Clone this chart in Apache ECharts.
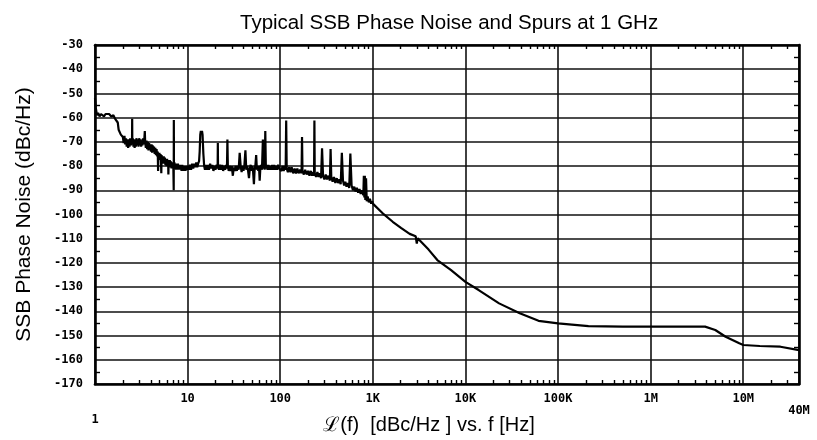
<!DOCTYPE html>
<html>
<head>
<meta charset="utf-8">
<script src="https://cdn.jsdelivr.net/npm/echarts@6/dist/echarts.min.js"></script>
<style>
html, body { margin: 0; padding: 0; background: #fff; }
#chart { width: 817px; height: 440px; }
</style>
</head>
<body>
<div id="chart"></div>
<script>
// SSB phase noise of the 1 GHz output: [offset frequency (Hz), L(f) (dBc/Hz)]

// 1 Hz - 10 Hz: close-in noise with mains-related spurs
const closeInNoise = [
  [1, -52], [1.02, -56], [1.05, -59], [1.08, -58], [1.12, -59.5], [1.16, -58.5],
  [1.2, -58], [1.25, -59.5], [1.3, -58.5], [1.36, -59], [1.42, -58.5], [1.5, -59.5],
  [1.58, -59], [1.65, -60.5], [1.72, -60], [1.76, -62], [1.8, -65], [1.85, -64.5],
  [1.9, -67], [1.96, -66.5], [2.0, -68], [2.04, -70.5], [2.08, -67.5], [2.12, -71],
  [2.16, -68.5], [2.2, -72], [2.24, -69], [2.28, -72.5], [2.32, -69], [2.36, -72],
  [2.4, -68.5], [2.44, -71.5], [2.48, -69], [2.51, -71], [2.52, -60.5], [2.53, -71],
  [2.56, -68.5], [2.6, -72], [2.64, -69], [2.68, -72.5], [2.72, -69.5], [2.76, -72],
  [2.8, -68.5], [2.85, -71.5], [2.9, -69], [2.95, -72], [3.0, -68.5], [3.05, -71.5],
  [3.1, -69], [3.15, -72], [3.2, -69.5], [3.25, -71.5], [3.3, -68.5], [3.36, -71],
  [3.42, -68], [3.45, -65.5], [3.48, -70], [3.54, -72.5], [3.6, -69.5], [3.66, -73],
  [3.72, -70], [3.78, -73.5], [3.84, -70.5], [3.9, -73], [3.96, -71], [4.02, -74],
  [4.08, -71], [4.14, -74.5], [4.2, -71.5], [4.27, -74], [4.34, -72], [4.41, -75],
  [4.48, -72.5], [4.55, -75.5], [4.62, -73], [4.7, -76], [4.76, -74], [4.8, -82],
  [4.84, -74.5], [4.9, -77], [4.96, -74.5], [5.03, -77.5], [5.1, -75], [5.16, -78],
  [5.2, -83], [5.24, -75.5], [5.31, -78.5], [5.38, -76], [5.45, -79], [5.52, -76],
  [5.6, -79], [5.68, -76.5], [5.76, -79.5], [5.84, -77], [5.92, -80], [6.0, -77],
  [6.08, -80], [6.16, -77.5], [6.2, -83.5], [6.25, -78], [6.33, -80.5], [6.42, -77.5],
  [6.5, -80.5], [6.6, -78], [6.7, -81], [6.8, -78.5], [6.9, -81], [7.0, -78.5],
  [7.08, -90], [7.1, -61], [7.12, -80], [7.2, -78.5], [7.3, -81], [7.4, -79],
  [7.5, -81.5], [7.62, -79], [7.74, -81.5], [7.86, -79], [8.0, -81.5], [8.15, -79.5],
  [8.3, -81.5], [8.45, -79.5], [8.6, -82], [8.75, -79.5], [8.9, -82], [9.05, -80],
  [9.2, -82], [9.35, -80], [9.5, -82], [9.65, -80], [9.8, -81.5]
];

// 10 Hz - 100 Hz
const decadeTwoNoise = [
  [10, -80], [10.3, -81.5], [10.6, -79.5], [10.9, -81.5], [11.2, -79], [11.5, -81],
  [11.8, -79], [12.1, -80.5], [12.4, -78.5], [12.7, -80.5], [13.0, -79], [13.3, -78],
  [13.5, -74], [13.7, -67], [13.9, -65.5], [14.1, -66.5], [14.3, -65.5], [14.5, -67],
  [14.8, -75], [15.1, -80], [15.4, -81.5], [15.8, -79.5], [16.2, -81.5], [16.6, -79.5],
  [17, -81.5], [17.5, -79], [18, -81], [18.5, -79.5], [19, -82], [19.5, -80],
  [20, -81.5], [20.6, -79.5], [21.1, -81], [21.2, -70.5], [21.3, -80], [21.8, -81.5],
  [22.4, -79.5], [23, -81.5], [23.6, -79.5], [24.2, -82], [24.8, -80], [25.4, -81.5],
  [26, -79.5], [26.6, -81], [26.9, -69], [27.2, -80], [27.8, -82], [28.5, -80],
  [29.2, -82], [30, -80], [30.8, -84], [31.5, -80.5], [32.3, -82], [33.1, -80],
  [34, -82], [34.8, -80], [35.6, -81.5], [36.5, -74.5], [37.4, -80], [38.3, -82.5],
  [39.2, -80], [40.1, -82], [41, -80], [42.1, -73.5], [43, -81.5], [44, -80],
  [45, -82], [46, -85], [47, -81], [48, -79.5], [49, -82], [50, -80],
  [51, -82.5], [52, -87.5], [53, -81], [54, -79.5], [55, -75.5], [56, -81.5],
  [57, -80], [58, -82], [59, -80], [60, -86], [61, -81], [62, -79.5],
  [63.5, -81.5], [65, -69], [66, -81], [67, -79.5], [68, -81.5], [69, -65.5],
  [70, -81], [71.5, -79.5], [73, -81.5], [74.5, -79.5], [76, -81.5], [78, -80],
  [80, -81.5], [82, -79.5], [84, -81.5], [86, -79.5], [88, -81.5], [90, -80],
  [92.5, -81.5], [95, -79.5], [97.5, -81]
];

// 100 Hz - 1 kHz
const decadeThreeNoise = [
  [100, -80.5], [103, -82], [106, -80], [109, -82], [112, -80], [114.5, -81.5],
  [116, -61.2], [117.5, -81], [121, -82.5], [125, -80.5], [129, -82.5], [133, -80.5],
  [138, -83], [143, -81], [148, -83], [153, -81], [158, -83], [164, -81.5],
  [170, -83], [172, -68], [174, -82], [180, -83.5], [186, -81.5], [193, -83.5],
  [200, -82], [207, -84], [214, -82], [221, -84], [228, -82.5], [232, -84],
  [234, -61.2], [236, -83], [244, -84.5], [252, -82.5], [260, -84.5], [268, -83],
  [276, -85], [283, -72.7], [290, -84], [300, -85.5], [310, -83.5], [320, -85.5],
  [332, -84], [344, -86], [350, -73], [356, -84.5], [368, -86.5], [380, -84.5],
  [394, -87], [408, -85], [422, -87], [436, -85.5], [450, -87.5], [463, -74.5],
  [476, -86], [490, -88], [505, -86.5], [520, -88.5], [538, -87], [556, -89],
  [572, -74.8], [590, -88], [610, -90], [630, -88.5], [650, -90.5], [672, -89],
  [695, -91], [718, -89.5], [740, -91.5], [765, -90], [790, -92], [800, -84],
  [810, -93], [820, -84], [830, -94], [845, -85], [860, -94.5], [880, -92.5],
  [905, -95], [930, -93.5], [960, -95.5], [985, -94.5]
];

// 1 kHz - 40 MHz: roll-off, broadband floor and output filter step
const farOutNoise = [
  [1000, -95.5], [1270, -99.4], [1640, -103], [2030, -105.6], [2500, -108],
  [2900, -109], [2985, -112], [3050, -109.8], [4000, -114.5], [4970, -118.8],
  [7000, -123], [10000, -127.8], [13900, -131.2], [23100, -136.7], [38600, -140.8],
  [61600, -143.9], [100000, -145], [213000, -146.1], [500000, -146.3], [1e6, -146.3],
  [2.74e6, -146.3], [3.87e6, -146.3], [4.99e6, -147.7], [6.45e6, -150.5], [9.06e6, -153.2],
  [1e7, -153.9], [1.51e7, -154.3], [2.52e7, -154.6], [4e7, -156]
];

// Axis tick labels
const xTickValues = [1, 10, 100, 1e3, 1e4, 1e5, 1e6, 1e7, 4e7];
const xTickLabels = ['1', '10', '100', '1K', '10K', '100K', '1M', '10M', '40M'];

// Minor frequency ticks at 2..9 of each decade
const xMinorTicks = [];
for (let d = 1; d <= 1e7; d *= 10) {
  for (let k = 2; k <= 9; k++) {
    if (k * d < 4e7) xMinorTicks.push(k * d);
  }
}

const tickFont = "'DejaVu Sans Mono', monospace";
const textFont = "'Liberation Sans', Arial, Helvetica, sans-serif";
const ink = '#000';

const tickLabelStyle = { fontFamily: tickFont, fontWeight: 'bold', fontSize: 12, color: ink };

function xLabel(v) {
  let best = 0;
  for (let i = 1; i < xTickValues.length; i++) {
    if (Math.abs(Math.log10(v) - Math.log10(xTickValues[i])) <
        Math.abs(Math.log10(v) - Math.log10(xTickValues[best]))) best = i;
  }
  const t = xTickLabels[best];
  if (best === 0) return '{low|' + t + '}';
  if (best === xTickValues.length - 1) return '{mid|' + t + '}';
  return t;
}

const chart = echarts.init(document.getElementById('chart'), null, { renderer: 'canvas' });

const frame = { show: true, lineStyle: { color: ink, width: 2.6 } };

chart.setOption({
  backgroundColor: '#fff',
  animation: false,
  title: {
    text: 'Typical SSB Phase Noise and Spurs at 1 GHz',
    left: 235,
    top: 8,
    textStyle: { fontFamily: textFont, fontWeight: 'normal', fontSize: 20.5, color: ink }
  },
  grid: { left: 95, right: 18, top: 45, bottom: 56, containLabel: false, outerBoundsMode: 'none' },
  xAxis: [
    {
      type: 'log', logBase: 10, min: 1, max: 4e7, position: 'bottom',
      axisLine: frame,
      axisTick: { show: false },
      axisLabel: Object.assign({
        show: true, showMinLabel: true, showMaxLabel: true, margin: 9,
        formatter: xLabel,
        rich: {
          low: Object.assign({ padding: [21, 0, 0, 0] }, tickLabelStyle),
          mid: Object.assign({ padding: [12, 0, 0, 0] }, tickLabelStyle)
        }
      }, tickLabelStyle),
      splitLine: { show: true, lineStyle: { color: '#111', width: 1.6 } },
      minorTick: { show: false },
      name: 'ℒ(f)  [dBc/Hz ] vs. f [Hz]',
      nameLocation: 'middle',
      nameGap: 31,
      nameMoveOverlap: false,
      nameTextStyle: { fontFamily: textFont, fontSize: 20, color: ink, padding: [0, 36, 0, 0] }
    },
    {
      type: 'log', logBase: 10, min: 1, max: 4e7, position: 'top',
      axisLine: frame,
      axisTick: { show: true, inside: true, length: 4, customValues: xMinorTicks, lineStyle: { color: ink, width: 1.4 } },
      axisLabel: { show: false },
      splitLine: { show: false }
    },
    {
      type: 'log', logBase: 10, min: 1, max: 4e7, position: 'bottom',
      axisLine: { show: false },
      axisTick: { show: true, inside: true, length: 4, customValues: xMinorTicks, lineStyle: { color: ink, width: 1.4 } },
      axisLabel: { show: false },
      splitLine: { show: false }
    }
  ],
  yAxis: [
    {
      type: 'value', min: -170, max: -30, interval: 10, position: 'left',
      axisLine: frame,
      axisTick: { show: false, inside: true },
      minorTick: { show: true, splitNumber: 2, length: 5, lineStyle: { color: ink, width: 1.4 } },
      axisLabel: Object.assign({ margin: 12 }, tickLabelStyle),
      splitLine: { show: true, lineStyle: { color: '#111', width: 1.6 } },
      name: 'SSB Phase Noise (dBc/Hz)',
      nameLocation: 'middle',
      nameGap: 60,
      nameTextStyle: { fontFamily: textFont, fontSize: 21, color: ink }
    },
    {
      type: 'value', min: -170, max: -30, interval: 10, position: 'right',
      axisLine: frame,
      axisTick: { show: false, inside: true },
      minorTick: { show: true, splitNumber: 2, length: 5, lineStyle: { color: ink, width: 1.4 } },
      axisLabel: { show: false },
      splitLine: { show: false }
    }
  ],
  series: [
    {
      name: 'L(f)',
      type: 'line',
      xAxisIndex: 0,
      yAxisIndex: 0,
      data: [].concat(closeInNoise, decadeTwoNoise, decadeThreeNoise, farOutNoise),
      showSymbol: false,
      symbol: 'none',
      smooth: false,
      lineStyle: { color: ink, width: 2.2 },
      z: 5
    }
  ]
});
</script>
</body>
</html>
